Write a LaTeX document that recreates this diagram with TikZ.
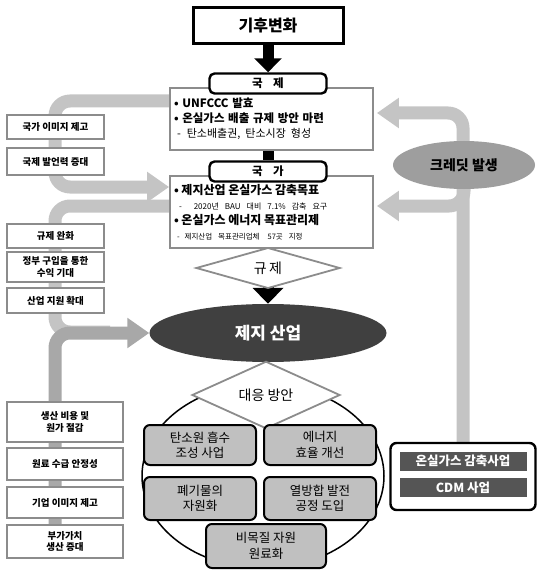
\documentclass[tikz,border=0pt]{standalone}
\usepackage{fontspec}
\setmainfont{Noto Sans CJK KR}
\usetikzlibrary{shapes.geometric, positioning, backgrounds, arrows.meta}
\definecolor{FlowGray}{RGB}{196, 196, 196}
\definecolor{FlowDark}{RGB}{168, 168, 168}
\definecolor{EdgeGray}{RGB}{140, 140, 140}
\definecolor{BoxGray}{RGB}{192, 192, 192}
\definecolor{PaperDark}{RGB}{64, 64, 64}
\definecolor{CreditGray}{RGB}{158, 158, 158}
\definecolor{CdmDark}{RGB}{85, 85, 85}

\begin{document}
\begin{tikzpicture}[x=1pt, y=-1pt,
            side/.style={draw=EdgeGray, line width=1.8pt, fill=white, align=center,
                         inner sep=1pt, font=\bfseries\fontsize{9.5}{11.5}\selectfont},
            hdr/.style={draw, line width=2.4pt, rounded corners=5pt, fill=white,
                        minimum width=117pt, minimum height=20pt, inner sep=0pt,
                        font=\bfseries\fontsize{11.5}{12}\selectfont},
            info/.style={draw=EdgeGray, line width=1.8pt, fill=white, minimum width=203pt,
                         text width=195pt, align=left, inner sep=3pt},
            task/.style={draw, line width=2pt, rounded corners=6pt, fill=BoxGray, align=center,
                         inner sep=0pt, font=\fontsize{12.5}{15.5}\selectfont},
            gate/.style={diamond, draw=EdgeGray, line width=1.8pt, fill=white, inner sep=0pt,
                         font=\fontsize{14}{15}\selectfont},
            flow/.style={FlowGray, line width=13pt, rounded corners=15pt},
            tip/.style={-{Triangle[length=22pt, width=29pt]}},
            blk/.style={line width=11pt}
        ]
            \useasboundingbox (0,0) rectangle (537,572);

            % main column
            \node[draw, line width=3pt, fill=white, minimum width=150pt, minimum height=36pt,
                  font=\bfseries\fontsize{16}{17}\selectfont] (climate) at (268, 25.5) {기후변화};
            \node[info, minimum height=62pt, font=\fontsize{11}{15}\selectfont] (intl) at (271.5, 119)
                {{\bfseries\fontsize{11.5}{15}\selectfont • UNFCCC 발효}\\
                 {\bfseries\fontsize{11.5}{15}\selectfont • 온실가스 배출 규제 방안 마련}\\
                 \hspace*{3pt}-\hspace*{6pt}탄소배출권,\hspace*{5pt}탄소시장\hspace*{5pt}형성};
            \node[hdr] (intlhd) at (268, 83.5) {국\hspace{0.9em}제};
            \node[info, minimum height=72pt, font=\fontsize{8}{15}\selectfont] (nat) at (271.5, 212)
                {{\bfseries\fontsize{12}{15}\selectfont • 제지산업 온실가스 감축목표}\\
                 \hspace*{5pt}-\hspace*{12pt}2020년\hspace*{6pt}BAU\hspace*{6pt}대비\hspace*{6pt}7.1\%\hspace*{6pt}감축\hspace*{6pt}요구\\
                 {\bfseries\fontsize{12}{15}\selectfont • 온실가스 에너지 목표관리제}\\
                 {\fontsize{7.5}{15}\selectfont\hspace*{3pt}-\hspace*{5pt}제지산업\hspace*{6pt}목표관리업체\hspace*{8pt}57곳\hspace*{6pt}지정}};
            \node[hdr] (nathd) at (268, 171.5) {국\hspace{0.9em}가};
            \node[gate, minimum width=144pt, minimum height=30pt] (reg) at (268, 268) {규\,제};
            \node[ellipse, fill=PaperDark, text=white, minimum width=237pt, minimum height=58pt,
                  font=\bfseries\fontsize{17}{19}\selectfont] (paper) at (268, 333) {제지 산업};

            % response options
            \node[gate, minimum width=148pt, minimum height=32pt] (resp) at (266, 395) {대응 방안};
            \node[task, minimum width=112pt, minimum height=40pt] (carbon) at (200, 445) {탄소원 흡수\\조성 사업};
            \node[task, minimum width=112pt, minimum height=40pt] (energy) at (320, 445) {에너지\\효율 개선};
            \node[task, minimum width=112pt, minimum height=43pt] (waste) at (200, 498.5) {폐기물의\\자원화};
            \node[task, minimum width=112pt, minimum height=43pt] (chp) at (320, 498.5) {열방합 발전\\공정 도입};
            \node[task, minimum width=120pt, minimum height=44pt] (nonwood) at (266, 546) {비목질 자원\\원료화};

            % left effects
            \node[side, minimum width=97pt, minimum height=24pt] (image) at (55.5, 127) {국가 이미지 제고};
            \node[side, minimum width=97pt, minimum height=27pt] (voice) at (55.5, 161.5) {국제 발언력 증대};
            \node[side, minimum width=97pt, minimum height=24pt] (relax) at (55.5, 236) {규제 완화};
            \node[side, minimum width=97pt, minimum height=30pt] (gov) at (55.5, 267) {정부 구입을 통한\\수익 기대};
            \node[side, minimum width=97pt, minimum height=25pt] (support) at (55.5, 300.5) {산업 지원 확대};
            \node[side, minimum width=116pt, minimum height=40pt] (cost) at (65, 422) {생산 비용 및\\원가 절감};
            \node[side, minimum width=116pt, minimum height=32pt] (supply) at (65, 464) {원료 수급 안정성};
            \node[side, minimum width=116pt, minimum height=31pt] (corp) at (65, 502.5) {기업 이미지 제고};
            \node[side, minimum width=116pt, minimum height=33pt] (value) at (65, 541.5) {부가가치\\생산 증대};

            % right side
            \node[ellipse, fill=CreditGray, minimum width=142pt, minimum height=48pt,
                  font=\bfseries\fontsize{14}{16}\selectfont] (credit) at (464, 165) {크레딧 발생};
            \node[draw, line width=2.4pt, rounded corners=6pt, fill=white,
                  minimum width=145pt, minimum height=67pt] (cdm) at (463, 476.5) {};
            \node[fill=CdmDark, text=white, minimum width=127pt, minimum height=19pt, inner sep=0pt,
                  font=\bfseries\fontsize{12.5}{14}\selectfont] (ghg) at (463, 461) {온실가스 감축사업};
            \node[fill=CdmDark, text=white, minimum width=127pt, minimum height=19pt, inner sep=0pt,
                  font=\bfseries\fontsize{12.5}{14}\selectfont] (cdmp) at (463, 487.5) {CDM 사업};

            \coordinate (ltop) at (55, 101);
            \coordinate (lmid) at (55, 187);
            \coordinate (lsub) at (55, 206);
            \coordinate (lend) at (110, 332);
            \coordinate (lbot) at (55, 545);
            \coordinate (rtop) at (463, 113);
            \coordinate (rmid) at (463, 206);

            \begin{scope}[on background layer]
                \draw[line width=1.5pt] (263, 476) ellipse [x radius=121pt, y radius=92pt];

                \draw[blk, -{Triangle[length=14pt, width=27pt]}] (climate.south) -- (intlhd.north);
                \draw[blk] (nathd.north |- intl.south) -- (nathd.north);
                \draw[blk, -{Triangle[length=16pt, width=30pt]}] (paper.north |- nat.south) -- (paper.north);

                \draw[flow, tip] (intl.west |- ltop) -- (ltop) -- (lmid) -- (nat.west |- lmid);
                \draw[flow] (nat.west |- lsub) -- (lsub) |- (lend);
                \draw[flow, FlowDark, tip] (lbot) |- (paper.west);
                \draw[flow, tip, shorten >=3pt] (cdm.north) |- (intl.east |- rtop);
                \draw[flow, tip, shorten >=3pt] (credit.center) |- (nat.east |- rmid);
            \end{scope}
        \end{tikzpicture}
\end{document}
